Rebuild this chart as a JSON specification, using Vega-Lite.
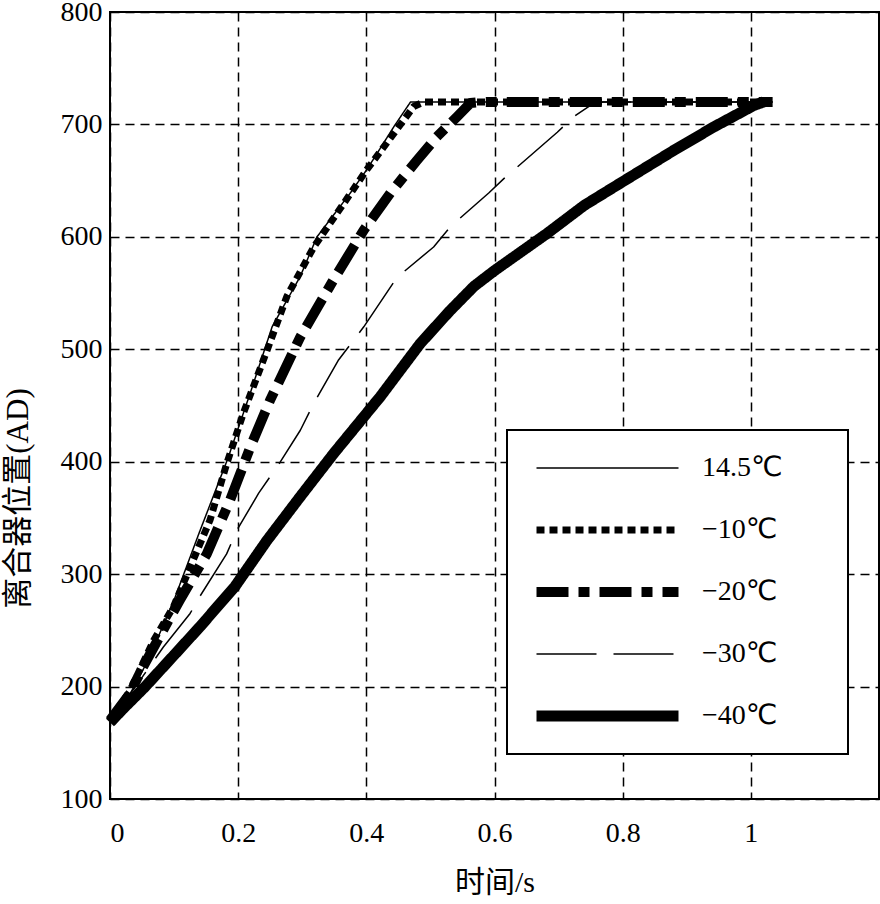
{
  "$schema": "https://vega.github.io/schema/vega-lite/v6.json",
  "width": 769,
  "height": 787,
  "autosize": {"type": "none"},
  "padding": {"left": 110, "top": 12, "right": 1, "bottom": 105},
  "background": "white",
  "config": {
    "view": {"stroke": "black", "strokeWidth": 2},
    "font": "Liberation Serif",
    "legend": {"strokeWidth": 2}
  },
  "data": {"values": [
    {"s": "14.5℃", "t": 0, "v": 170}, {"s": "14.5℃", "t": 0.03, "v": 192}, {"s": "14.5℃", "t": 0.06, "v": 224}, {"s": "14.5℃", "t": 0.1, "v": 277}, {"s": "14.5℃", "t": 0.14, "v": 338}, {"s": "14.5℃", "t": 0.184, "v": 403}, {"s": "14.5℃", "t": 0.22, "v": 463}, {"s": "14.5℃", "t": 0.253, "v": 520}, {"s": "14.5℃", "t": 0.297, "v": 565}, {"s": "14.5℃", "t": 0.323, "v": 600}, {"s": "14.5℃", "t": 0.375, "v": 639}, {"s": "14.5℃", "t": 0.401, "v": 660}, {"s": "14.5℃", "t": 0.443, "v": 698}, {"s": "14.5℃", "t": 0.469, "v": 720}, {"s": "14.5℃", "t": 1.034, "v": 720},
    {"s": "−10℃", "t": 0, "v": 170}, {"s": "−10℃", "t": 0.03, "v": 195}, {"s": "−10℃", "t": 0.068, "v": 241}, {"s": "−10℃", "t": 0.099, "v": 271}, {"s": "−10℃", "t": 0.125, "v": 306}, {"s": "−10℃", "t": 0.156, "v": 348}, {"s": "−10℃", "t": 0.182, "v": 398}, {"s": "−10℃", "t": 0.208, "v": 443}, {"s": "−10℃", "t": 0.245, "v": 499}, {"s": "−10℃", "t": 0.276, "v": 547}, {"s": "−10℃", "t": 0.318, "v": 591}, {"s": "−10℃", "t": 0.365, "v": 630}, {"s": "−10℃", "t": 0.401, "v": 660}, {"s": "−10℃", "t": 0.443, "v": 692}, {"s": "−10℃", "t": 0.474, "v": 716}, {"s": "−10℃", "t": 0.49, "v": 720}, {"s": "−10℃", "t": 1.034, "v": 720},
    {"s": "−20℃", "t": 0, "v": 170}, {"s": "−20℃", "t": 0.03, "v": 193}, {"s": "−20℃", "t": 0.052, "v": 218}, {"s": "−20℃", "t": 0.0885, "v": 256}, {"s": "−20℃", "t": 0.109, "v": 277}, {"s": "−20℃", "t": 0.151, "v": 318}, {"s": "−20℃", "t": 0.1875, "v": 366}, {"s": "−20℃", "t": 0.219, "v": 413}, {"s": "−20℃", "t": 0.25, "v": 455}, {"s": "−20℃", "t": 0.297, "v": 511}, {"s": "−20℃", "t": 0.349, "v": 562}, {"s": "−20℃", "t": 0.396, "v": 606}, {"s": "−20℃", "t": 0.4375, "v": 639}, {"s": "−20℃", "t": 0.479, "v": 668}, {"s": "−20℃", "t": 0.51, "v": 689}, {"s": "−20℃", "t": 0.542, "v": 707}, {"s": "−20℃", "t": 0.5625, "v": 719}, {"s": "−20℃", "t": 0.58, "v": 720}, {"s": "−20℃", "t": 1.034, "v": 720},
    {"s": "−30℃", "t": 0, "v": 170}, {"s": "−30℃", "t": 0.04, "v": 200}, {"s": "−30℃", "t": 0.083, "v": 235}, {"s": "−30℃", "t": 0.125, "v": 265}, {"s": "−30℃", "t": 0.14, "v": 280}, {"s": "−30℃", "t": 0.182, "v": 318}, {"s": "−30℃", "t": 0.198, "v": 339}, {"s": "−30℃", "t": 0.232, "v": 372}, {"s": "−30℃", "t": 0.266, "v": 400}, {"s": "−30℃", "t": 0.297, "v": 428}, {"s": "−30℃", "t": 0.318, "v": 452}, {"s": "−30℃", "t": 0.356, "v": 490}, {"s": "−30℃", "t": 0.396, "v": 520}, {"s": "−30℃", "t": 0.448, "v": 564}, {"s": "−30℃", "t": 0.505, "v": 591}, {"s": "−30℃", "t": 0.531, "v": 609}, {"s": "−30℃", "t": 0.591, "v": 639}, {"s": "−30℃", "t": 0.615, "v": 652}, {"s": "−30℃", "t": 0.698, "v": 693}, {"s": "−30℃", "t": 0.724, "v": 707}, {"s": "−30℃", "t": 0.755, "v": 719}, {"s": "−30℃", "t": 0.77, "v": 720}, {"s": "−30℃", "t": 1.034, "v": 720},
    {"s": "−40℃", "t": 0, "v": 168}, {"s": "−40℃", "t": 0.02, "v": 180}, {"s": "−40℃", "t": 0.055, "v": 200}, {"s": "−40℃", "t": 0.1, "v": 228}, {"s": "−40℃", "t": 0.14, "v": 253}, {"s": "−40℃", "t": 0.195, "v": 289}, {"s": "−40℃", "t": 0.245, "v": 330}, {"s": "−40℃", "t": 0.297, "v": 369}, {"s": "−40℃", "t": 0.35, "v": 408}, {"s": "−40℃", "t": 0.422, "v": 458}, {"s": "−40℃", "t": 0.484, "v": 505}, {"s": "−40℃", "t": 0.53, "v": 534}, {"s": "−40℃", "t": 0.568, "v": 556}, {"s": "−40℃", "t": 0.6, "v": 570}, {"s": "−40℃", "t": 0.682, "v": 603}, {"s": "−40℃", "t": 0.74, "v": 628}, {"s": "−40℃", "t": 0.797, "v": 648}, {"s": "−40℃", "t": 0.88, "v": 677}, {"s": "−40℃", "t": 0.943, "v": 698}, {"s": "−40℃", "t": 1.005, "v": 717}, {"s": "−40℃", "t": 1.02, "v": 720}
  ]},
  "mark": {"type": "line", "stroke": "black", "strokeCap": "butt", "strokeJoin": "round"},
  "encoding": {
    "x": {
      "field": "t", "type": "quantitative",
      "scale": {"domain": [0, 1.2], "nice": false, "zero": false},
      "axis": {
        "values": [0, 0.2, 0.4, 0.6, 0.8, 1], "format": "~g",
        "title": "时间/s", "titleFont": "Liberation Serif, Noto Sans CJK SC", "titleFontSize": 30, "titleFontWeight": "normal", "titleColor": "black", "titlePadding": 20,
        "labelFont": "Liberation Serif", "labelFontSize": 28, "labelColor": "black", "labelPadding": 20,
        "ticks": false, "domain": false,
        "grid": true, "gridColor": "black", "gridDash": [9, 6], "gridWidth": 1.5, "gridOpacity": 1
      }
    },
    "y": {
      "field": "v", "type": "quantitative",
      "scale": {"domain": [100, 800], "nice": false, "zero": false},
      "axis": {
        "values": [100, 200, 300, 400, 500, 600, 700, 800],
        "title": "离合器位置(AD)", "titleFont": "Liberation Serif, Noto Sans CJK SC", "titleFontSize": 31, "titleFontWeight": "normal", "titleColor": "black",
        "titleX": -92, "titleY": 486, "titleAngle": -90, "titleAlign": "center", "titleBaseline": "middle",
        "labelFont": "Liberation Serif", "labelFontSize": 28, "labelColor": "black", "labelPadding": 8,
        "ticks": false, "domain": false,
        "grid": true, "gridColor": "black", "gridDash": [9, 6], "gridWidth": 1.5, "gridOpacity": 1
      }
    },
    "detail": {"field": "s"},
    "strokeDash": {
      "field": "s", "type": "nominal",
      "scale": {"type": "ordinal", "domain": ["14.5℃", "−10℃", "−20℃", "−30℃", "−40℃"], "range": [[1, 0], [8, 5], [32, 10, 11, 10], [60, 17], [1, 0]]},
      "legend": {
        "title": null, "orient": "none", "legendX": 397, "legendY": 418,
        "direction": "vertical",
        "symbolType": "stroke", "symbolSize": 20164, "symbolStrokeColor": "black",
        "labelFont": "Liberation Serif, DejaVu Sans", "labelFontSize": 28, "labelColor": "black", "labelOffset": 18, "labelLimit": 400,
        "labelExpr": "datum.label + '\u2800\u2800'",
        "clipHeight": 28, "rowPadding": 34, "padding": 24,
        "strokeColor": "black", "fillColor": "white"
      }
    },
    "strokeWidth": {
      "field": "s", "type": "nominal",
      "scale": {"type": "ordinal", "domain": ["14.5℃", "−10℃", "−20℃", "−30℃", "−40℃"], "range": [1.5, 7, 10, 1.5, 11]},
      "legend": {
        "title": null, "orient": "none", "legendX": 397, "legendY": 418,
        "direction": "vertical",
        "symbolType": "stroke", "symbolSize": 20164, "symbolStrokeColor": "black",
        "labelFont": "Liberation Serif, DejaVu Sans", "labelFontSize": 28, "labelColor": "black", "labelOffset": 18, "labelLimit": 400,
        "labelExpr": "datum.label + '\u2800\u2800'",
        "clipHeight": 28, "rowPadding": 34, "padding": 24,
        "strokeColor": "black", "fillColor": "white"
      }
    }
  }
}
